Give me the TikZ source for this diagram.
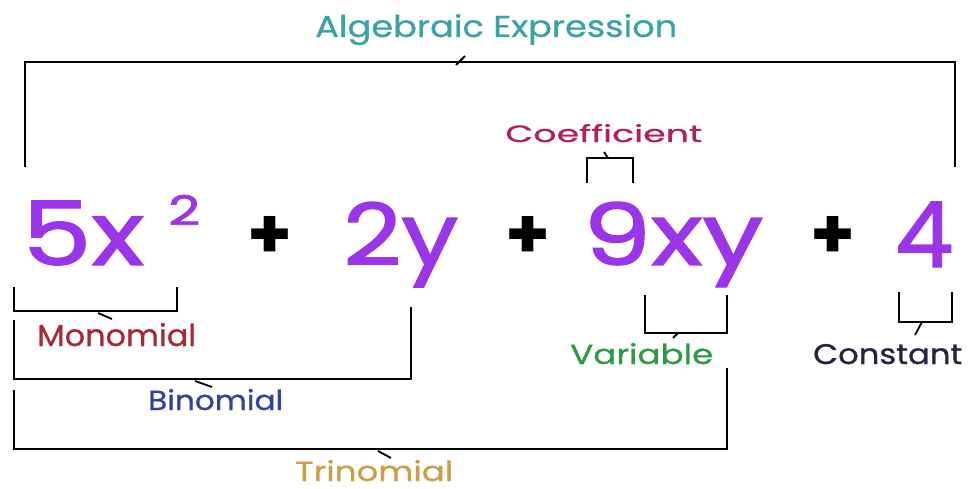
\documentclass[tikz,border=0pt]{standalone}
\usepackage{fontspec}
\setmainfont{Poppins}
\newfontfamily\termfont[FakeBold=1.6]{Poppins}
\newfontfamily\lblfont[FakeBold=0.8]{Poppins}
\usepackage{graphicx}
\definecolor{teal1}{HTML}{3AA3A6}
\definecolor{coef}{HTML}{B0205E}
\definecolor{purp}{HTML}{9A36E8}
\definecolor{mono}{HTML}{A52A35}
\definecolor{bino}{HTML}{3342A0}
\definecolor{trino}{HTML}{C9A048}
\definecolor{vari}{HTML}{2E9A45}
\definecolor{cons}{HTML}{23243F}
\tikzset{
  brk/.style={draw=black, line width=2.8pt},
  tk/.style={draw=black, line width=1.8pt},
  lbl/.style={inner sep=0pt, anchor=base west, font=\lblfont},
  term/.style={inner sep=0pt, anchor=base west, text=purp, font=\termfont},
  plus/.style={inner sep=0pt, text=black},
}
\begin{document}
\begin{tikzpicture}[x=1pt,y=-1pt]
\useasboundingbox[fill=white] (0,0) rectangle (969,489);
% labels
\node[lbl,text=teal1] (alg) at (315,37) {\resizebox{362pt}{23pt}{Algebraic Expression}};
\node[lbl,text=coef] (coef) at (505,142) {\resizebox{197pt}{18pt}{Coefficient}};
\node[lbl,text=mono] (mono) at (37,346) {\resizebox{159pt}{23pt}{Monomial}};
\node[lbl,text=bino] (bino) at (148,410) {\resizebox{135pt}{21pt}{Binomial}};
\node[lbl,text=trino] (trino) at (295,481) {\resizebox{158pt}{21pt}{Trinomial}};
\node[lbl,text=vari] (vari) at (570,364) {\resizebox{143pt}{21pt}{Variable}};
\node[lbl,text=cons] (cons) at (813,364) {\resizebox{149pt}{20pt}{Constant}};
% expression
\node[term] (t1) at (22,265) {\resizebox{122pt}{64pt}{5x}};
\node[term] (sq) at (168,225) {\resizebox{32pt}{30pt}{2}};
\node[plus] (p1) at (270,237) {\resizebox{45pt}{42pt}{\textbf{+}}};
\node[term] (t2) at (343,265) {\resizebox{115pt}{63pt}{2y}};
\node[plus] (p2) at (528,237) {\resizebox{45pt}{42pt}{\textbf{+}}};
\node[term] (t3) at (583,265) {\resizebox{180pt}{63pt}{9xy}};
\node[plus] (p3) at (833,237) {\resizebox{45pt}{42pt}{\textbf{+}}};
\node[term] (t4) at (895,267) {\resizebox{58pt}{65pt}{4}};
% brackets
\draw[brk] (25,167) -- (25,62) -- (955,62) -- (955,167);
\draw[tk] (456,65) -- (465,56);
\draw[brk] (587,183) -- (587,158) -- (633,158) -- (633,183);
\draw[tk] (608,158) -- (604,152);
\draw[brk] (14,287) -- (14,311) -- (177,311) -- (177,287);
\draw[tk] (98,313) -- (112,319);
\draw[brk] (14,320) -- (14,379) -- (411,379) -- (411,307);
\draw[tk] (195,381) -- (212,387);
\draw[brk] (14,390) -- (14,449) -- (727,449) -- (727,368);
\draw[tk] (378,451) -- (391,458);
\draw[brk] (645,295) -- (645,333) -- (727,333) -- (727,295);
\draw[tk] (678,333) -- (673,338);
\draw[brk] (899,292) -- (899,322) -- (952,322) -- (952,292);
\draw[tk] (922,322) -- (915,335);
\end{tikzpicture}
\end{document}
